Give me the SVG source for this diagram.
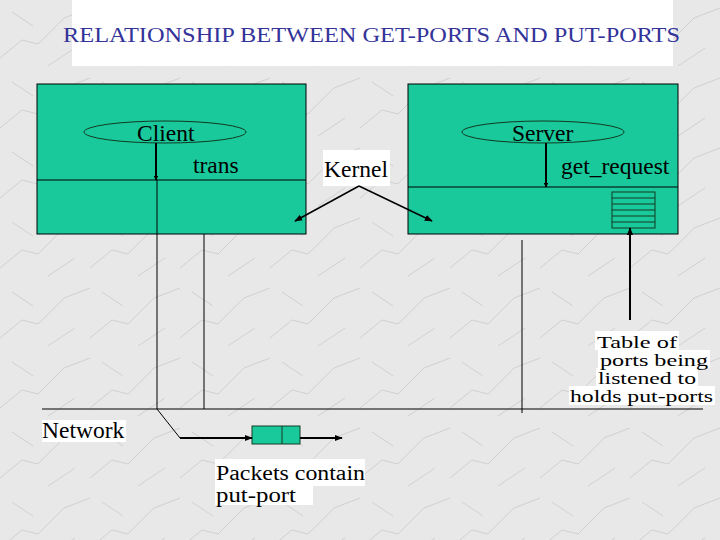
<svg xmlns="http://www.w3.org/2000/svg" width="720" height="540" viewBox="0 0 720 540" font-family="'Liberation Serif', 'Times New Roman', serif">
<defs>
<marker id="ah" viewBox="0 0 10 10" refX="9" refY="5" markerWidth="5" markerHeight="5" orient="auto" markerUnits="userSpaceOnUse"><path d="M0,0 L10,5 L0,10 z" fill="#000"/></marker>
<marker id="ah2" viewBox="0 0 10 10" refX="9" refY="5" markerWidth="8" markerHeight="8" orient="auto" markerUnits="userSpaceOnUse"><path d="M0,1 L10,5 L0,9 z" fill="#000"/></marker>
<pattern id="marble" width="90" height="70" patternUnits="userSpaceOnUse">
<rect width="90" height="70" fill="#e8e8e8"/>
<path d="M0,58 L22,40 L38,44 L64,18 L90,8 M12,12 L33,26 M48,66 L75,48" stroke="#d0d0d0" stroke-width="1" fill="none"/>
</pattern>
</defs>
<style>
text{font-family:"Liberation Serif","Times New Roman",serif;fill:#000}
.box{fill:#19c89b;stroke:#000;stroke-width:1}
.ln{stroke:#000;stroke-width:1;fill:none}
.thick{stroke:#000;stroke-width:2;fill:none}
.ell{fill:none;stroke:#123a22;stroke-width:1}
.lbl{font-size:23.5px}
.pl{font-size:20px}
.tl{font-size:16px}
.wb{fill:#fff}
</style>
<rect width="720" height="540" fill="url(#marble)"/>
<g id="title">
<rect x="72" y="0" width="601" height="66" class="wb"/>
<text x="63" y="42" font-size="22" style="fill:#333399" textLength="617" lengthAdjust="spacingAndGlyphs">RELATIONSHIP BETWEEN GET-PORTS AND PUT-PORTS</text>
</g>
<g id="client">
<rect x="37" y="84" width="269" height="150" class="box"/>
<line x1="37" y1="180" x2="306" y2="180" class="ln"/>
<ellipse cx="165" cy="132" rx="81" ry="11" class="ell"/>
<text x="137" y="141" class="lbl">Client</text>
<text x="193" y="173" class="lbl">trans</text>
</g>
<g id="server">
<rect x="408" y="84" width="270" height="150" class="box"/>
<line x1="408" y1="187" x2="678" y2="187" class="ln"/>
<ellipse cx="543" cy="132" rx="81" ry="11" class="ell"/>
<text x="512" y="141" class="lbl">Server</text>
<text x="561" y="174" class="lbl">get_request</text>
<g id="table">
<rect x="612" y="192" width="43" height="36" fill="#19c89b" stroke="#123a22"/>
<path d="M612,198 H655 M612,204 H655 M612,210 H655 M612,216 H655 M612,222 H655" stroke="#123a22" stroke-width="1"/>
</g>
</g>
<g id="kernel">
<rect x="323" y="150" width="67" height="36" class="wb"/>
<text x="324" y="177" class="lbl">Kernel</text>
</g>
<g id="network">
<rect x="42" y="420" width="84" height="22" class="wb"/>
<text x="42" y="438" class="lbl">Network</text>
</g>
<g id="packet">
<rect x="252" y="426" width="48" height="18" fill="#19c89b" stroke="#123a22"/>
<line x1="282" y1="426" x2="282" y2="444" stroke="#123a22"/>
</g>
<g id="packet-label">
<rect x="215" y="459" width="150" height="27" class="wb"/>
<rect x="215" y="485" width="98" height="20" class="wb"/>
<text x="216" y="480" class="pl" textLength="149" lengthAdjust="spacingAndGlyphs">Packets contain</text>
<text x="216" y="502" class="pl" textLength="80" lengthAdjust="spacingAndGlyphs">put-port</text>
</g>
<g id="table-label">
<rect x="595" y="331" width="84" height="19" class="wb"/>
<rect x="598" y="350" width="112" height="18" class="wb"/>
<rect x="596" y="368" width="102" height="18" class="wb"/>
<rect x="569" y="386" width="146" height="19" class="wb"/>
<text x="597" y="348" class="tl" textLength="80" lengthAdjust="spacingAndGlyphs">Table of</text>
<text x="600" y="366" class="tl" textLength="108" lengthAdjust="spacingAndGlyphs">ports being</text>
<text x="598" y="384" class="tl" textLength="98" lengthAdjust="spacingAndGlyphs">listened to</text>
<text x="570" y="402" class="tl" textLength="143" lengthAdjust="spacingAndGlyphs">holds put-ports</text>
</g>
<g id="connectors">
<line x1="156" y1="143" x2="156" y2="180" class="thick" marker-end="url(#ah)"/>
<line x1="546" y1="143" x2="546" y2="187" class="thick" marker-end="url(#ah)"/>
<line x1="359" y1="186" x2="295" y2="221" stroke="#000" stroke-width="1.5" marker-end="url(#ah2)"/>
<line x1="359" y1="186" x2="432" y2="221" stroke="#000" stroke-width="1.5" marker-end="url(#ah2)"/>
<line x1="157" y1="180" x2="157" y2="409" class="ln"/>
<line x1="204" y1="234" x2="204" y2="409" class="ln"/>
<line x1="522" y1="240" x2="522" y2="413" class="ln"/>
<line x1="42" y1="409" x2="703" y2="409" class="ln"/>
<polyline points="157,409 180,438" class="ln"/>
<line x1="180" y1="438" x2="252" y2="438" class="thick" marker-end="url(#ah2)"/>
<line x1="300" y1="438" x2="342" y2="438" class="thick" marker-end="url(#ah2)"/>
<line x1="630" y1="320" x2="630" y2="228" class="thick" marker-end="url(#ah2)"/>
</g>
</svg>
